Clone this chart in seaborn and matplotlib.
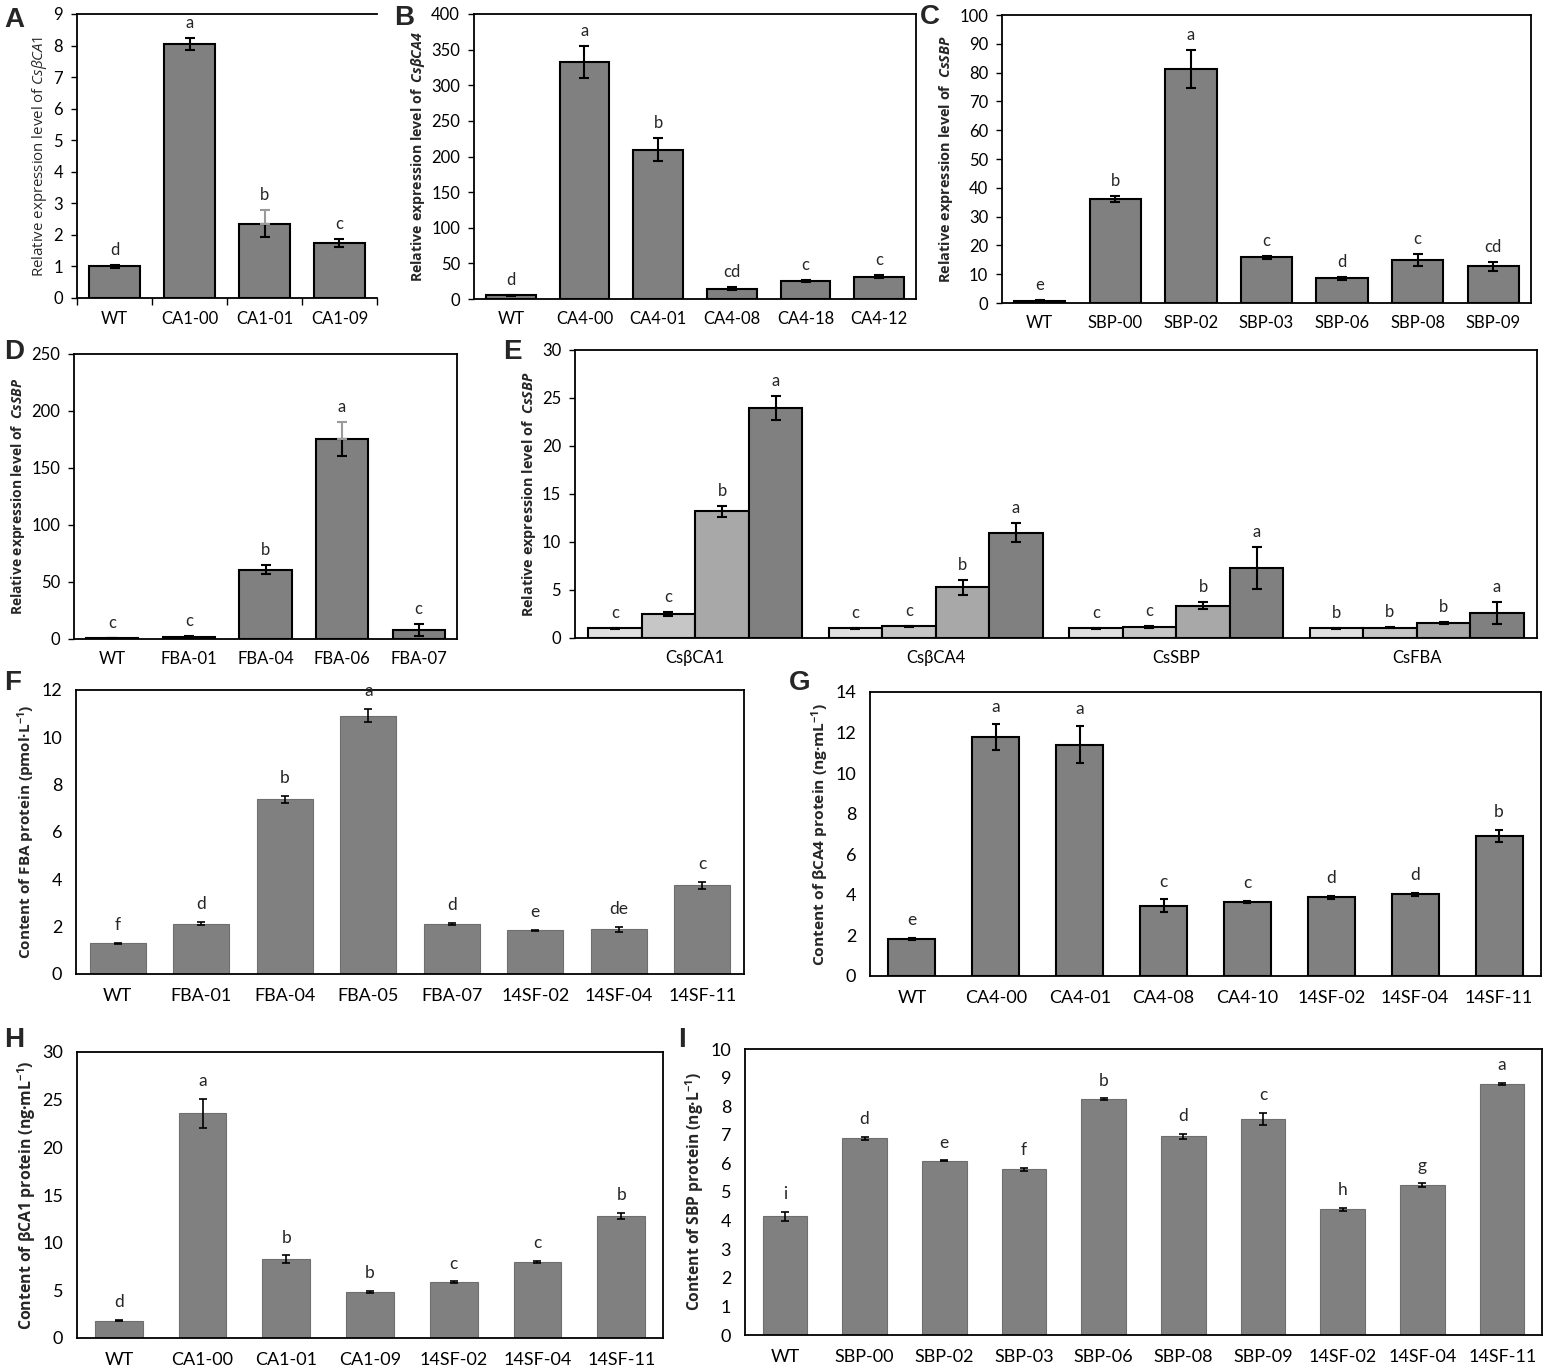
import numpy as np
import pandas as pd
import matplotlib
matplotlib.use("Agg")
import matplotlib.pyplot as plt
import seaborn as sns

# ---------------- data ----------------
a_lines = ["WT", "CA1-00", "CA1-01", "CA1-09"]
a_mean = [1.0, 8.05, 2.35, 1.75]
a_err = [0.05, 0.18, 0.43, 0.12]
a_sig = ["d", "a", "b", "c"]

b_lines = ["WT", "CA4-00", "CA4-01", "CA4-08", "CA4-18", "CA4-12"]
b_mean = [5.2, 332.5, 209.5, 14.5, 25.8, 31.4]
b_err = [1.0, 23.0, 16.5, 2.0, 1.5, 2.5]
b_sig = ["d", "a", "b", "cd", "c", "c"]

c_lines = ["WT", "SBP-00", "SBP-02", "SBP-03", "SBP-06", "SBP-08", "SBP-09"]
c_mean = [0.8, 36.1, 81.2, 15.8, 8.6, 14.9, 12.7]
c_err = [0.3, 1.2, 6.6, 0.5, 0.6, 2.0, 1.7]
c_sig = ["e", "b", "a", "c", "d", "c", "cd"]

d_lines = ["WT", "FBA-01", "FBA-04", "FBA-06", "FBA-07"]
d_mean = [1.0, 1.8, 60.8, 175.7, 7.9]
d_err = [0.3, 0.6, 4.0, 15.0, 5.0]
d_sig = ["c", "c", "b", "a", "c"]

e_genes = ["CsβCA1", "CsβCA4", "CsSBP", "CsFBA"]
e_levels = ["WT", "14SF-02", "14SF-04", "14SF-11"]
e_mean_wt = [1.0, 1.0, 1.0, 1.0]
e_mean_02 = [2.47, 1.22, 1.15, 1.08]
e_mean_04 = [13.2, 5.28, 3.37, 1.53]
e_mean_11 = [23.95, 10.95, 7.3, 2.64]
e_err_wt = [0.03, 0.03, 0.03, 0.03]
e_err_02 = [0.2, 0.05, 0.08, 0.05]
e_err_04 = [0.6, 0.8, 0.35, 0.12]
e_err_11 = [1.27, 1.0, 2.2, 1.15]
e_sig_wt = ["c", "c", "c", "b"]
e_sig_02 = ["c", "c", "c", "b"]
e_sig_04 = ["b", "b", "b", "b"]
e_sig_11 = ["a", "a", "a", "a"]

f_lines = ["WT", "FBA-01", "FBA-04", "FBA-05", "FBA-07", "14SF-02", "14SF-04", "14SF-11"]
f_mean = [1.30, 2.13, 7.39, 10.92, 2.13, 1.85, 1.89, 3.75]
f_err = [0.02, 0.07, 0.15, 0.28, 0.04, 0.03, 0.10, 0.15]
f_sig = ["f", "d", "b", "a", "d", "e", "de", "c"]

g_lines = ["WT", "CA4-00", "CA4-01", "CA4-08", "CA4-10", "14SF-02", "14SF-04", "14SF-11"]
g_mean = [1.83, 11.76, 11.4, 3.46, 3.67, 3.87, 4.02, 6.89]
g_err = [0.05, 0.64, 0.9, 0.32, 0.05, 0.07, 0.07, 0.3]
g_sig = ["e", "a", "a", "c", "c", "d", "d", "b"]

h_lines = ["WT", "CA1-00", "CA1-01", "CA1-09", "14SF-02", "14SF-04", "14SF-11"]
h_mean = [1.82, 23.57, 8.29, 4.86, 5.87, 8.0, 12.83]
h_err = [0.07, 1.54, 0.38, 0.10, 0.08, 0.10, 0.30]
h_sig = ["d", "a", "b", "b", "c", "c", "b"]

i_lines = ["WT", "SBP-00", "SBP-02", "SBP-03", "SBP-06", "SBP-08", "SBP-09", "14SF-02", "14SF-04", "14SF-11"]
i_mean = [4.15, 6.88, 6.09, 5.79, 8.25, 6.95, 7.55, 4.39, 5.23, 8.77]
i_err = [0.15, 0.06, 0.02, 0.06, 0.02, 0.08, 0.22, 0.06, 0.07, 0.04]
i_sig = ["i", "d", "e", "f", "b", "d", "c", "h", "g", "a"]

# ---------------- style ----------------
sns.set_theme(style="ticks")
plt.rcParams.update({
    "font.family": ["Lato", "DejaVu Sans"],
    "mathtext.fontset": "custom",
    "mathtext.rm": "Open Sans",
    "mathtext.it": "Open Sans:italic",
    "mathtext.bf": "Open Sans:bold",
    "mathtext.bfit": "Open Sans:italic:bold",
    "axes.edgecolor": "black",
    "axes.linewidth": 1.3,
    "xtick.color": "black",
    "ytick.color": "black",
})

W, H = 1544, 1368
fig = plt.figure(figsize=(W / 100, H / 100), dpi=100)


def rect(l, r, t, b):
    return [l / W, 1 - b / H, (r - l) / W, (b - t) / H]


BAR = "#808080"
TICK = ["Lato", "DejaVu Sans"]
LAB = ["Open Sans", "DejaVu Sans"]
label_targets = []  # (axes, target label length in pixels)


def panel(box, lines, mean, err, sig, ymax, ystep, ylabel, width, kind, lab_len,
          gray_upper=(), hide_right=False, boundary_ticks=False, lab_weight="bold"):
    ax = fig.add_axes(rect(*box))
    df = pd.DataFrame({"line": lines, "value": mean})
    if kind == "ae":
        ec, lw, elw, cap, ts, ls, lpad = "black", 1.5, 1.5, 3.5, 12, 12, 5
    else:
        ec, lw, elw, cap, ts, ls, lpad = "#6e6e6e", 0.8, 1.2, 3.0, 13, 12.5, 7
    if kind == "g":
        ec, lw, elw = "black", 1.5, 1.5
    sns.barplot(data=df, x="line", y="value", color=BAR, saturation=1,
                width=width, edgecolor=ec, linewidth=lw, errorbar=None, ax=ax)
    x = np.arange(len(lines))
    lower = np.array(err, dtype=float)
    upper = np.array(err, dtype=float)
    up_black = upper.copy()
    for k in gray_upper:
        up_black[k] = 0.0
    ax.errorbar(x, mean, yerr=[lower, up_black], fmt="none", ecolor="black",
                elinewidth=elw, capsize=cap, capthick=elw, zorder=5)
    if gray_upper:
        idx = list(gray_upper)
        ax.errorbar(x[idx], np.array(mean)[idx], yerr=[np.zeros(len(idx)), upper[idx]],
                    fmt="none", ecolor="#9a9a9a", elinewidth=elw, capsize=cap,
                    capthick=elw, zorder=5)
    for xi, m, e, s in zip(x, mean, err, sig):
        ax.annotate(s, (xi, m + e), xytext=(0, lpad), textcoords="offset points",
                    ha="center", va="bottom", fontsize=ls, family=TICK)
    ax.set_xlim(-0.5, len(lines) - 0.5)
    ax.set_ylim(0, ymax)
    ax.set_yticks(np.arange(0, ymax + ystep / 2, ystep))
    ax.set_xlabel("")
    ax.set_ylabel(ylabel, fontsize=10, fontweight=lab_weight, family=LAB, labelpad=3)
    label_targets.append((ax, lab_len))
    for t in ax.get_xticklabels() + ax.get_yticklabels():
        t.set_family(TICK)
        t.set_fontsize(ts)
    if kind == "ae":
        ax.tick_params(axis="y", direction="out", length=4, width=1, pad=6)
        ax.tick_params(axis="x", length=0, pad=9)
    else:
        ax.tick_params(axis="y", length=0, pad=10)
        ax.tick_params(axis="x", length=0, pad=10)
    for sp in ax.spines.values():
        sp.set_visible(True)
    if hide_right:
        ax.spines["right"].set_visible(False)
    if boundary_ticks:
        ax.set_xticks(np.arange(-0.5, len(lines), 1.0), minor=True)
        ax.tick_params(axis="x", which="minor", direction="out", length=5, width=1)
    return ax


panel((77, 377, 14, 298), a_lines, a_mean, a_err, a_sig, 9, 1,
      r"Relative expression level of $\mathit{CsβCA1}$", 0.67, "ae", 241,
      gray_upper=(2,), hide_right=True, boundary_ticks=True, lab_weight="normal")
panel((474, 916, 14, 299), b_lines, b_mean, b_err, b_sig, 400, 50,
      r"Relative expression level of  $\mathbfit{CsβCA4}$", 0.67, "ae", 251)
panel((1002, 1531, 15, 303), c_lines, c_mean, c_err, c_sig, 100, 10,
      r"Relative expression level of  $\mathbfit{CsSBP}$", 0.68, "ae", 247)
panel((74, 457, 354, 639), d_lines, d_mean, d_err, d_sig, 250, 50,
      r"Relative expression level of  $\mathbfit{CsSBP}$", 0.68, "ae", 238, gray_upper=(3,))

# ---- panel E (grouped) ----
axE = fig.add_axes(rect(575, 1537, 350, 638))
e_means = [e_mean_wt, e_mean_02, e_mean_04, e_mean_11]
e_errs = [e_err_wt, e_err_02, e_err_04, e_err_11]
e_sigs = [e_sig_wt, e_sig_02, e_sig_04, e_sig_11]
rows = []
for lev, vals in zip(e_levels, e_means):
    for g, v in zip(e_genes, vals):
        rows.append({"gene": g, "line": lev, "value": v})
dfE = pd.DataFrame(rows)
e_colors = ["#e0e0e0", "#c6c6c6", "#a8a8a8", "#808080"]
sns.barplot(data=dfE, x="gene", y="value", hue="line", hue_order=e_levels,
            order=e_genes, palette=e_colors, saturation=1, width=0.89,
            edgecolor="black", linewidth=1.5, errorbar=None, legend=False, ax=axE)
for cont, errs, sigs in zip(axE.containers, e_errs, e_sigs):
    xs = [p.get_x() + p.get_width() / 2 for p in cont]
    hs = [p.get_height() for p in cont]
    axE.errorbar(xs, hs, yerr=errs, fmt="none", ecolor="black", elinewidth=1.5,
                 capsize=3.5, capthick=1.5, zorder=5)
    for xi, h, e, s in zip(xs, hs, errs, sigs):
        axE.annotate(s, (xi, h + e), xytext=(0, 5), textcoords="offset points",
                     ha="center", va="bottom", fontsize=12, family=TICK)
axE.set_xlim(-0.5, len(e_genes) - 0.5)
axE.set_ylim(0, 30)
axE.set_yticks(np.arange(0, 31, 5))
axE.set_xlabel("")
axE.set_ylabel(r"Relative expression level of  $\mathbfit{CsSBP}$", fontsize=10,
               fontweight="bold", family=LAB, labelpad=3)
label_targets.append((axE, 245))
for t in axE.get_xticklabels() + axE.get_yticklabels():
    t.set_family(TICK)
    t.set_fontsize(12)
axE.tick_params(axis="y", direction="out", length=4, width=1, pad=6)
axE.tick_params(axis="x", length=0, pad=9)
for sp in axE.spines.values():
    sp.set_visible(True)

panel((76, 744, 690, 974), f_lines, f_mean, f_err, f_sig, 12, 2,
      r"Content of FBA protein (pmol·L$^{\mathbf{-1}}$)", 0.67, "fi", 256)
panel((870, 1541, 692, 976), g_lines, g_mean, g_err, g_sig, 14, 2,
      r"Content of βCA4 protein (ng·mL$^{\mathbf{-1}}$)", 0.56, "g", 263)
panel((77, 663, 1052, 1338), h_lines, h_mean, h_err, h_sig, 30, 5,
      r"Content of βCA1 protein (ng·mL$^{\mathbf{-1}}$)", 0.57, "fi", 268)
panel((745, 1542, 1049, 1335), i_lines, i_mean, i_err, i_sig, 10, 1,
      r"Content of SBP protein (ng·L$^{\mathbf{-1}}$)", 0.56, "fi", 239)

# fit y-label sizes to the lengths measured on the reference
renderer = fig.canvas.get_renderer()
for _ in range(3):
    for ax, target in label_targets:
        lab = ax.yaxis.label
        cur = lab.get_window_extent(renderer).height
        if cur > 0:
            lab.set_fontsize(lab.get_fontsize() * target / cur)

# panel letters
for letter, (px, py) in {"A": (14, 20), "B": (404, 18), "C": (930, 17),
                         "D": (14, 352), "E": (512, 352), "F": (13, 683),
                         "G": (800, 683), "H": (14, 1040), "I": (682, 1040)}.items():
    fig.text(px / W, 1 - py / H, letter, fontsize=20, fontweight="bold",
             family=["Liberation Sans", "DejaVu Sans"], ha="center", va="center")

fig.savefig("out.png", dpi=100, facecolor="white")
